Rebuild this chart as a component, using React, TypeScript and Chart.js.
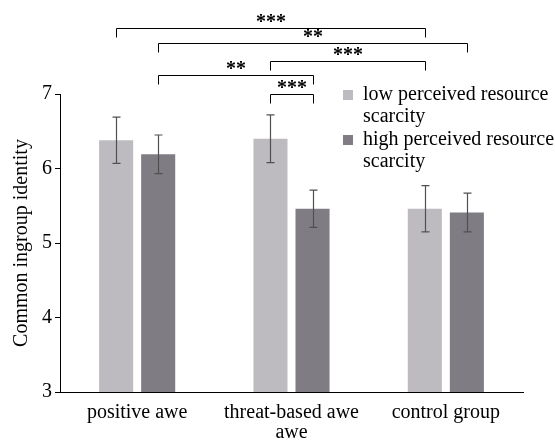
import React, { useEffect, useRef } from "react";
import { Chart, registerables } from "chart.js";

Chart.register(...registerables);

const FONT = '"Liberation Serif", "Times New Roman", serif';

const categories = [["positive awe"], ["threat-based awe", "awe"], ["control group"]];
const lowLegend = ["low perceived resource", "scarcity"];
const highLegend = ["high perceived resource", "scarcity"];
const lowValues = [6.38, 6.4, 5.46];
const highValues = [6.19, 5.46, 5.41];
const lowErrors = [0.31, 0.32, 0.31];
const highErrors = [0.26, 0.25, 0.26];
const lowColor = "#bdbbc0";
const highColor = "#7f7d83";
const yMin = 3;
const yMax = 7;

// [datasetA, indexA] -> [datasetB, indexB], level (y value), label
const bracketFrom = [[0, 0], [1, 0], [0, 1], [1, 0], [0, 1]];
const bracketTo = [[0, 2], [1, 2], [0, 2], [1, 1], [1, 1]];
const bracketLevels = [7.89, 7.69, 7.44, 7.26, 7.0];
const bracketLabels = ["***", "**", "***", "**", "***"];

const errorPlugin = {
  id: "errorBars",
  afterDatasetsDraw(chart: any) {
    const ctx = chart.ctx;
    const y = chart.scales.y;
    const errs = [lowErrors, highErrors];
    ctx.save();
    ctx.strokeStyle = "#505050";
    ctx.lineWidth = 1.2;
    [0, 1].forEach((d) => {
      const meta = chart.getDatasetMeta(d);
      meta.data.forEach((bar: any, i: number) => {
        const v = chart.data.datasets[d].data[i];
        const e = errs[d][i];
        const x = Math.round(bar.x) + 0.5;
        const yt = y.getPixelForValue(v + e);
        const yb = y.getPixelForValue(v - e);
        ctx.beginPath();
        ctx.moveTo(x, yt);
        ctx.lineTo(x, yb);
        ctx.moveTo(x - 4, yt);
        ctx.lineTo(x + 4, yt);
        ctx.moveTo(x - 4, yb);
        ctx.lineTo(x + 4, yb);
        ctx.stroke();
      });
    });
    ctx.restore();
  },
};

const annotPlugin = {
  id: "annot",
  afterDraw(chart: any) {
    const ctx = chart.ctx;
    const y = chart.scales.y;
    ctx.save();
    ctx.strokeStyle = "#000";
    ctx.lineWidth = 1;
    ctx.fillStyle = "#000";
    ctx.font = `bold 20px ${FONT}`;
    ctx.textAlign = "center";
    ctx.textBaseline = "alphabetic";
    bracketLevels.forEach((lvl, k) => {
      const a = chart.getDatasetMeta(bracketFrom[k][0]).data[bracketFrom[k][1]];
      const b = chart.getDatasetMeta(bracketTo[k][0]).data[bracketTo[k][1]];
      const x1 = Math.round(a.x) + 0.5;
      const x2 = Math.round(b.x) + 0.5;
      const py = Math.round(y.getPixelForValue(lvl)) + 0.5;
      ctx.beginPath();
      ctx.moveTo(x1, py + 9);
      ctx.lineTo(x1, py);
      ctx.lineTo(x2, py);
      ctx.lineTo(x2, py + 9);
      ctx.stroke();
      ctx.fillText(bracketLabels[k], (x1 + x2) / 2, py - 1);
    });
    ctx.font = `20px ${FONT}`;
    ctx.textAlign = "left";
    ctx.textBaseline = "middle";
    const entries: [string[], string][] = [
      [lowLegend, lowColor],
      [highLegend, highColor],
    ];
    const lx = 343;
    let ly = 95;
    entries.forEach(([lines, color]) => {
      ctx.fillStyle = color;
      ctx.fillRect(lx, ly - 5, 10, 10);
      ctx.fillStyle = "#000";
      lines.forEach((t, j) => {
        ctx.fillText(t, lx + 20, ly + j * 22);
      });
      ly += 45;
    });
    ctx.restore();
  },
};

export default function App() {
  const ref = useRef<HTMLCanvasElement>(null);
  useEffect(() => {
    if (!ref.current) return;
    const chart = new Chart(ref.current, {
      type: "bar",
      data: {
        labels: categories as any,
        datasets: [
          {
            label: lowLegend.join(" "),
            data: lowValues,
            backgroundColor: lowColor,
            categoryPercentage: 0.545,
            barPercentage: 0.81,
          },
          {
            label: highLegend.join(" "),
            data: highValues,
            backgroundColor: highColor,
            categoryPercentage: 0.545,
            barPercentage: 0.81,
          },
        ],
      },
      options: {
        responsive: false,
        animation: false,
        layout: { padding: { top: 94, right: 32, left: 10, bottom: 0 } },
        plugins: {
          legend: { display: false },
          tooltip: { enabled: false },
        },
        scales: {
          x: {
            grid: { display: true, drawOnChartArea: false, drawTicks: false },
            border: { display: true, color: "#000", width: 1 },
            ticks: {
              color: "#000",
              font: { family: FONT, size: 20, lineHeight: 1.0 },
              padding: 11,
              maxRotation: 0,
              autoSkip: false,
            },
            afterFit(scale: any) {
              scale.height = 48;
            },
          },
          y: {
            min: yMin,
            max: yMax,
            grid: { display: true, drawOnChartArea: false, drawTicks: true, tickLength: 5, color: "#000" },
            border: { display: true, color: "#000", width: 1 },
            ticks: {
              stepSize: 1,
              color: "#000",
              font: { family: FONT, size: 20 },
              padding: 3,
            },
            title: {
              display: true,
              text: "Common ingroup identity",
              color: "#000",
              font: { family: FONT, size: 20 },
              padding: 0,
            },
            afterFit(scale: any) {
              scale.width = 50;
            },
          },
        },
      },
      plugins: [errorPlugin, annotPlugin],
    });
    return () => chart.destroy();
  }, []);
  return (
    <div style={{ position: "fixed", left: 0, top: 0, width: 555, height: 440, background: "#fff" }}>
      <canvas ref={ref} width={555} height={440} />
    </div>
  );
}
